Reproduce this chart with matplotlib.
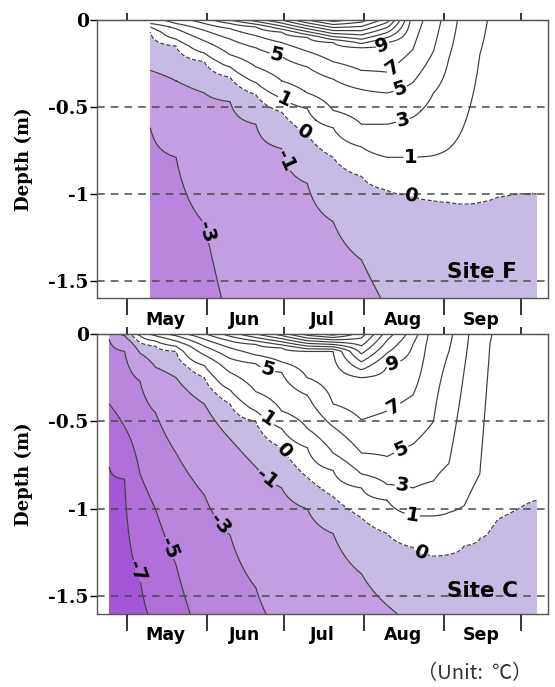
import numpy as np
import matplotlib
matplotlib.use("Agg")
import matplotlib.pyplot as plt

nan = np.nan

# ---- data: depth (m) of each isotherm on sampled days (day of year), nan = isotherm absent
# Site F
f_days    = [130, 140, 151, 161, 171, 181, 191, 201, 212, 222, 232, 240, 246, 252, 258, 265, 273, 280]
f_surface = [4, 6, 8, 11, 14, 17, 21, 24, 22, 18, 8, 6, 4, 2.2, 1.3, 0.6, 0.3, 0.2]
f_bottom  = [-4.2, -4.0, -3.6, -2.7, -2.2, -1.9, -1.7, -1.5, -1.3, -0.9, -0.7, -0.6, -0.5, -0.5, -0.4, -0.4, -0.3, -0.3]
f_m3 = [0.62, 0.79, 1.17, nan, nan, nan, nan, nan, nan, nan, nan, nan, nan, nan, nan, nan, nan, nan]
f_m1 = [0.29, 0.35, 0.42, 0.47, 0.60, 0.74, 0.94, 1.16, 1.38, nan, nan, nan, nan, nan, nan, nan, nan, nan]
f_0  = [0.07, 0.15, 0.24, 0.33, 0.43, 0.53, 0.66, 0.79, 0.90, 0.98, 1.01, 1.04, 1.05, 1.06, 1.05, 1.02, 1.00, 1.00]
f_1  = [0.04, 0.11, 0.19, 0.27, 0.36, 0.45, 0.51, 0.62, 0.73, 0.79, 0.79, 0.78, 0.74, 0.60, 0.20, nan, nan, nan]
f_3  = [0.02, 0.05, 0.12, 0.20, 0.27, 0.35, 0.42, 0.52, 0.60, 0.60, 0.56, 0.42, 0.22, nan, nan, nan, nan, nan]
f_5  = [nan, 0.02, 0.06, 0.11, 0.16, 0.21, 0.27, 0.34, 0.40, 0.42, 0.36, 0.18, nan, nan, nan, nan, nan, nan]
f_7  = [nan, nan, 0.02, 0.05, 0.09, 0.13, 0.18, 0.24, 0.29, 0.30, 0.17, nan, nan, nan, nan, nan, nan, nan]
f_9  = [nan, nan, nan, 0.02, 0.04, 0.07, 0.10, 0.13, 0.16, 0.13, nan, nan, nan, nan, nan, nan, nan, nan]

# Site C
c_days    = [114, 120, 126, 132, 140, 151, 161, 171, 181, 191, 201, 212, 222, 232, 240, 246, 252, 258, 262, 265, 273, 280]
c_surface = [-2, -0.5, 1.5, 4, 6, 8.8, 12, 15, 18, 22, 24, 20, 14, 10, 6, 5.5, 3.5, 1.8, 1.1, 0.7, 0.4, 0.3]
c_bottom  = [-8, -7.8, -7.3, -6.7, -5.5, -4.5, -3.8, -3.2, -2.7, -2.2, -1.8, -1.4, -1.1, -0.85, -0.7, -0.6, -0.55, -0.5, -0.5, -0.45, -0.4, -0.4]
c_m7 = [0.76, 0.83, 1.40, nan, nan, nan, nan, nan, nan, nan, nan, nan, nan, nan, nan, nan, nan, nan, nan, nan, nan, nan]
c_m5 = [0.40, 0.53, 0.80, 1.00, 1.32, nan, nan, nan, nan, nan, nan, nan, nan, nan, nan, nan, nan, nan, nan, nan, nan, nan]
c_m3 = [0.03, 0.10, 0.27, 0.45, 0.68, 0.92, 1.15, 1.45, nan, nan, nan, nan, nan, nan, nan, nan, nan, nan, nan, nan, nan, nan]
c_m1 = [nan, 0.01, 0.11, 0.19, 0.25, 0.40, 0.60, 0.76, 0.88, 1.00, 1.14, 1.37, 1.55, nan, nan, nan, nan, nan, nan, nan, nan, nan]
c_0  = [nan, nan, 0.05, 0.07, 0.10, 0.25, 0.40, 0.50, 0.65, 0.82, 0.93, 1.05, 1.14, 1.22, 1.27, 1.26, 1.21, 1.17, 1.12, 1.06, 1.00, 0.95]
c_1  = [nan, nan, 0.01, 0.04, 0.07, 0.18, 0.32, 0.44, 0.54, 0.65, 0.78, 0.88, 0.95, 1.04, 1.04, 1.02, 0.98, 0.80, 0.05, nan, nan, nan]
c_3  = [nan, nan, nan, 0.01, 0.04, 0.12, 0.22, 0.33, 0.44, 0.54, 0.68, 0.80, 0.86, 0.88, 0.84, 0.74, 0.20, nan, nan, nan, nan, nan]
c_5  = [nan, nan, nan, nan, 0.01, 0.07, 0.14, 0.17, 0.22, 0.35, 0.53, 0.68, 0.70, 0.63, 0.50, 0.10, nan, nan, nan, nan, nan, nan]
c_7  = [nan, nan, nan, nan, nan, 0.03, 0.08, 0.12, 0.16, 0.25, 0.40, 0.49, 0.44, 0.35, nan, nan, nan, nan, nan, nan, nan, nan]
c_9  = [nan, nan, nan, nan, nan, nan, 0.04, 0.06, 0.08, 0.10, 0.10, 0.25, 0.18, 0.06, nan, nan, nan, nan, nan, nan, nan, nan]

month_starts = [121, 152, 182, 213, 244, 274]
month_mids   = [136, 166.5, 197, 228, 258.5]
month_names  = ["May", "Jun", "Jul", "Aug", "Sep"]
depth_ticks  = [0, -0.5, -1, -1.5]
depth_labels = ["0", "-0.5", "-1", "-1.5"]

MAX_DEPTH = 1.6
fill_levels = [-9, -7, -5, -3, -1, 0, 40]
fill_colors = ["#a257d6", "#b06fd9", "#b985dd", "#c39fe2", "#c7bbe5", "white"]
extra_levels = list(range(11, 30, 2))   # dense unlabeled lines near the surface


def BuildField(days, surface, bottom, isotherms, z, t):
    # temperature profile per sampled day from isotherm depths, then linear in time
    cols = []
    for i in range(len(days)):
        zz, tt = [0.0], [surface[i]]
        for level, depth in isotherms.items():
            if not np.isnan(depth[i]):
                zz.append(depth[i])
                tt.append(level)
        zz.append(MAX_DEPTH)
        tt.append(bottom[i])
        order = np.argsort(zz)
        cols.append(np.interp(z, np.array(zz)[order], np.array(tt)[order]))
    cols = np.array(cols)
    return np.array([np.interp(t, days, cols[:, k]) for k in range(len(z))])


def PlotPanel(ax, days, surface, bottom, isotherms, label_pos, site, site_y):
    z = np.linspace(0, MAX_DEPTH, 321)
    t = np.arange(days[0], days[-1] + 0.01, 0.25)
    T = BuildField(days, surface, bottom, isotherms, z, t)
    X, Y = np.meshgrid(t, -z)

    ax.contourf(X, Y, T, levels=fill_levels, colors=fill_colors, zorder=1)
    ax.contour(X, Y, T, levels=extra_levels, colors="#3c3c3c", linewidths=0.85, zorder=2)
    lab_levels = sorted(isotherms.keys())
    styles = ["dashed" if l == 0 else "solid" for l in lab_levels]
    cs = ax.contour(X, Y, T, levels=lab_levels, colors="#3c3c3c",
                    linewidths=0.85, linestyles=styles, zorder=2)
    texts = ax.clabel(cs, manual=label_pos, fmt="%d",
                      fontsize=14, inline=True, inline_spacing=2, colors="k")
    for tx in texts:
        tx.set_fontweight("bold")
        tx.set_zorder(6)

    for d in [-0.5, -1, -1.5]:
        ax.axhline(d, color="#4a4a4a", lw=1.1, ls=(0, (5, 4)), zorder=5)

    ax.set_xlim(109.3, 284.5)
    ax.set_ylim(-MAX_DEPTH, 0)
    ax.set_yticks(depth_ticks)
    ax.set_yticklabels(depth_labels, family="DejaVu Serif", weight="bold", fontsize=13.5)
    ax.tick_params(axis="y", direction="out", length=5, width=1, pad=1)
    ax.set_xticks(month_starts)
    ax.set_xticklabels([])
    ax.set_xticks(month_mids, minor=True)
    ax.set_xticklabels(month_names, minor=True, weight="bold", fontsize=12.5)
    ax.tick_params(axis="x", which="major", direction="out", length=12, width=1.1)
    ax.tick_params(axis="x", which="minor", length=0, pad=9)
    top = ax.secondary_xaxis("top")
    top.set_xticks(month_starts)
    top.set_xticklabels([])
    top.tick_params(direction="out", length=5, width=1.1)

    ax.set_ylabel("Depth (m)", family="DejaVu Serif", weight="bold", fontsize=13)
    ax.yaxis.set_label_coords(-0.142, 0.5)
    ax.text(0.854, site_y, site, transform=ax.transAxes, ha="center",
            va="baseline", fontsize=15.5, weight="bold", zorder=7)
    for sp in ax.spines.values():
        sp.set_color("#555555")
        sp.set_linewidth(1.0)


plt.rcParams["font.family"] = ["DejaVu Sans"]
fig = plt.figure(figsize=(5.55, 6.87), dpi=100)
ax_f = fig.add_axes([0.1748, 0.5662, 0.8126, 0.4047])
ax_c = fig.add_axes([0.1748, 0.1063, 0.8126, 0.4076])

f_iso = {-3: f_m3, -1: f_m1, 0: f_0, 1: f_1, 3: f_3, 5: f_5, 7: f_7, 9: f_9}
c_iso = {-7: c_m7, -5: c_m5, -3: c_m3, -1: c_m1, 0: c_0, 1: c_1, 3: c_3, 5: c_5, 7: c_7, 9: c_9}

f_label_pos = [(179, -0.20), (183, -0.43), (190, -0.63), (183.5, -0.80), (151, -1.22),
               (220, -0.13), (224, -0.27), (227, -0.39), (228, -0.57), (231, -0.79), (231, -1.0)]
c_label_pos = [(176, -0.18), (176.5, -0.47), (180.5, -0.68), (175.5, -0.82), (156, -1.10),
               (138, -1.22), (126, -1.35), (224.5, -0.18), (224.5, -0.42), (228, -0.68),
               (228, -0.86), (232, -1.02), (235, -1.25)]

PlotPanel(ax_f, f_days, f_surface, f_bottom, f_iso, f_label_pos, "Site F", 0.072)
PlotPanel(ax_c, c_days, c_surface, c_bottom, c_iso, c_label_pos, "Site C", 0.06)

fig.text(475 / 555, 1 - 674 / 687, "（Unit:  ℃）", ha="center", va="center",
         fontsize=14.5, color="#333333", family=["Noto Sans CJK JP", "DejaVu Sans"])

fig.savefig("out.png", dpi=100)
